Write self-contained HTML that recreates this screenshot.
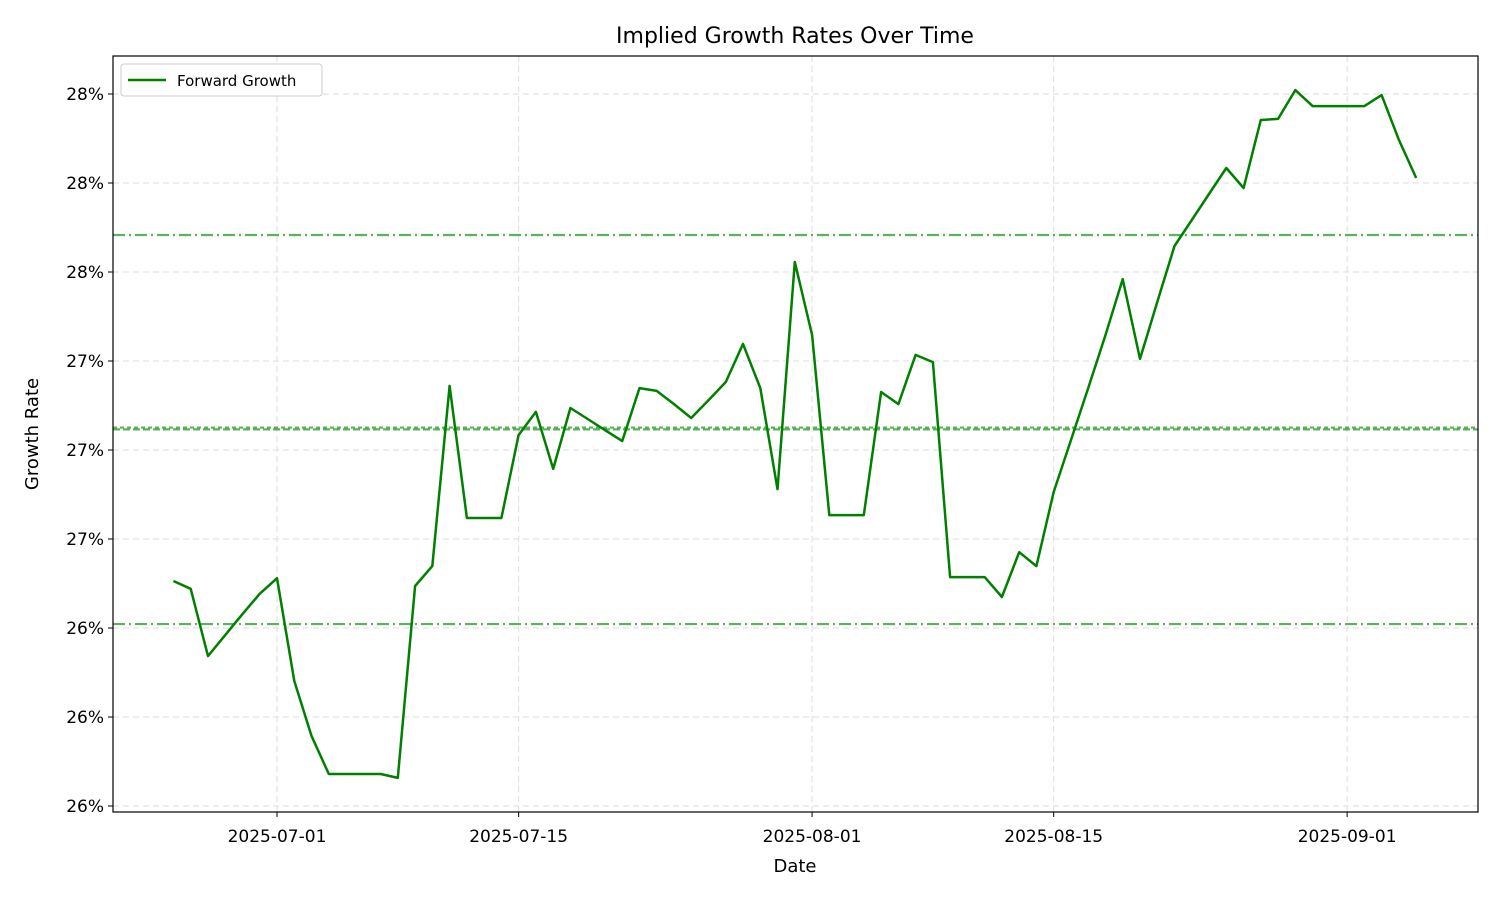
<!DOCTYPE html>
<html><head><meta charset="utf-8"><style>
body{margin:0;background:#fff;font-family:"Liberation Sans","DejaVu Sans",sans-serif}
svg text{font-family:"DejaVu Sans","Liberation Sans",sans-serif}
</style></head><body>
<svg id="chart" width="1500" height="900" xmlns="http://www.w3.org/2000/svg">
<rect width="1500" height="900" fill="#fff"/>
<g id="grid"></g>
<g id="refs"></g>
<g id="series"></g>
<rect x="113" y="56" width="1365" height="756" fill="none" stroke="#000" stroke-width="1.2"/>
<g id="axes"></g>
<text x="795" y="43" text-anchor="middle" font-size="22">Implied Growth Rates Over Time</text>
<text x="795" y="872" text-anchor="middle" font-size="18">Date</text>
<text x="38" y="434" text-anchor="middle" font-size="18" transform="rotate(-90 38 434)">Growth Rate</text>
<g>
<rect x="121" y="64" width="201" height="32" rx="3" fill="#fff" stroke="#ccc"/>
<line x1="128" y1="80" x2="166" y2="80" stroke="#008000" stroke-width="2.5"/>
<text x="177" y="86" font-size="15">Forward Growth</text>
</g>
</svg>
<script>
const startDay = -6;
const values = [26.632,26.610,26.421,26.480,26.539,26.596,26.640,26.351,26.197,26.090,26.090,26.090,26.090,26.079,26.618,26.674,27.180,26.809,26.809,26.809,27.042,27.107,26.947,27.118,27.087,27.056,27.025,27.174,27.166,27.129,27.090,27.140,27.191,27.298,27.174,26.890,27.528,27.323,26.817,26.817,26.817,27.163,27.129,27.267,27.247,26.643,26.643,26.643,26.587,26.713,26.674,26.882,27.028,27.174,27.323,27.480,27.256,27.416,27.573,27.646,27.719,27.792,27.736,27.927,27.930,28.011,27.966,27.966,27.966,27.966,27.997,27.871,27.764];
const refValues = [27.604, 26.511, 27.063, 27.058];
const refStyles = ["12,4,2,4","12,4,2,4","4,3","7,3"];
const yTicks = [26.0,26.25,26.5,26.75,27.0,27.25,27.5,27.75,28.0];
const yTickLabels = ["26%","26%","26%","27%","27%","27%","28%","28%","28%"];
const xTicks = [0,14,31,45,62];
const xTickLabels = ["2025-07-01","2025-07-15","2025-08-01","2025-08-15","2025-09-01"];
const NS="http://www.w3.org/2000/svg";
function X(d){return 277+d*17.26;}
function Y(v){return 806-(v-26)/0.25*89;}
function mk(tag,attrs,parent){const e=document.createElementNS(NS,tag);for(const k in attrs)e.setAttribute(k,attrs[k]);parent.appendChild(e);return e;}
const grid=document.getElementById('grid'),axes=document.getElementById('axes'),refs=document.getElementById('refs'),series=document.getElementById('series');
yTicks.forEach((t,i)=>{const y=Y(t);
 const g=mk('line',{x1:113,x2:1478,y1:y,y2:y,stroke:'#ddd','stroke-dasharray':'6,4'},grid);
 
 
 const tk=mk('line',{x1:108,x2:113,y1:y,y2:y,stroke:'#000'},axes);
 
 
 const tx=mk('text',{x:104,y:y+6,'text-anchor':'end','font-size':'17'},axes);tx.textContent=yTickLabels[i];
 
 
});
xTicks.forEach((t,i)=>{const x=X(t);
 const g=mk('line',{x1:x,x2:x,y1:56,y2:812,stroke:'#ddd','stroke-dasharray':'6,4'},grid);
 
 
 const tk=mk('line',{x1:x,x2:x,y1:812,y2:817,stroke:'#000'},axes);
 
 
 const tx=mk('text',{x:x,y:842,'text-anchor':'middle','font-size':'17'},axes);tx.textContent=xTickLabels[i];
 
 
});
refValues.forEach((v,i)=>{const y=Y(v);
 const l=mk('line',{x1:113,x2:1478,y1:y,y2:y,stroke:'#3fa33f','stroke-opacity':'0.85','stroke-width':'2.2','stroke-dasharray':refStyles[i]},refs);
 
 
});
const pts=values.map((v,i)=>X(startDay+i).toFixed(1)+','+Y(v).toFixed(1)).join(' ');
const pl=mk('polyline',{points:pts,fill:'none',stroke:'#008000','stroke-width':'2.5','stroke-linejoin':'round'},series);


</script>
</body></html>
